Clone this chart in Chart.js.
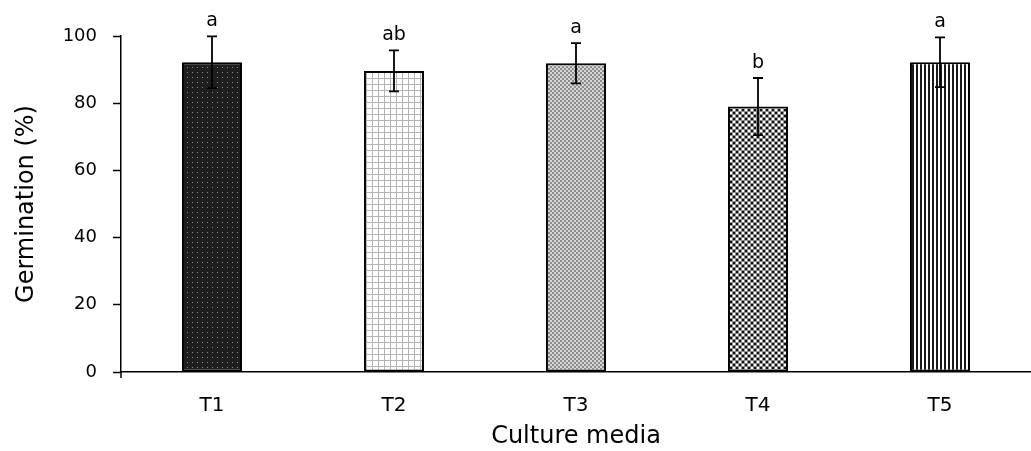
<!DOCTYPE html>
<html>
<head>
<meta charset="utf-8">
<script src="https://cdn.jsdelivr.net/npm/chart.js@4"></script>
<style>
  html, body { margin: 0; padding: 0; background: #fff; }
  #wrap { width: 1031px; height: 451px; }
</style>
</head>
<body>
<div id="wrap"><canvas id="germChart"></canvas></div>
<script>
// data
const categories = ['T1', 'T2', 'T3', 'T4', 'T5'];
const germination = [92.2, 89.6, 91.9, 79.0, 92.2];
const errors = [7.7, 6.1, 6.0, 8.5, 7.4];
const letters = ['a', 'ab', 'a', 'b', 'a'];
const yTicks = [0, 20, 40, 60, 80, 100];

const FONT = '"DejaVu Sans", Verdana, sans-serif';

// small tile patterns for the bar fills
function makePattern(size, draw) {
    const c = document.createElement('canvas');
    c.width = size;
    c.height = size;
    const g = c.getContext('2d');
    draw(g);
    return c.getContext('2d').createPattern(c, 'repeat');
}

const patterns = [
    // T1: dark with grey dots
    makePattern(5, g => {
        g.fillStyle = '#1e1e1e'; g.fillRect(0, 0, 5, 5);
        g.fillStyle = '#8a8a8a'; g.fillRect(2, 2, 1, 1);
    }),
    // T2: white with grey grid
    makePattern(6, g => {
        g.fillStyle = '#ffffff'; g.fillRect(0, 0, 6, 6);
        g.fillStyle = '#b4b4b4'; g.fillRect(0, 0, 6, 1); g.fillRect(0, 0, 1, 6);
    }),
    // T3: fine grey checker
    makePattern(4, g => {
        g.fillStyle = '#d6d6d6'; g.fillRect(0, 0, 4, 4);
        g.fillStyle = '#8c8c8c'; g.fillRect(0, 0, 2, 2); g.fillRect(2, 2, 2, 2);
    }),
    // T4: grey with black and white squares
    makePattern(6, g => {
        g.fillStyle = '#8e8e8e'; g.fillRect(0, 0, 6, 6);
        g.fillStyle = '#ffffff'; g.fillRect(1, 1, 2, 2); g.fillRect(4, 4, 2, 2);
        g.fillStyle = '#111111'; g.fillRect(4, 1, 2, 2); g.fillRect(1, 4, 2, 2);
    }),
    // T5: vertical stripes
    makePattern(4, g => {
        g.fillStyle = '#ffffff'; g.fillRect(0, 0, 4, 4);
        g.fillStyle = '#1a1a1a'; g.fillRect(0, 0, 2, 4);
    })
];

const errorBarPlugin = {
    id: 'errorBars',
    afterDatasetsDraw(chart) {
        const ctx = chart.ctx;
        const y = chart.scales.y;
        const meta = chart.getDatasetMeta(0);
        ctx.save();
        ctx.strokeStyle = '#000';
        ctx.lineWidth = 1.8;
        meta.data.forEach((bar, i) => {
            const top = y.getPixelForValue(germination[i] + errors[i]);
            const bot = y.getPixelForValue(germination[i] - errors[i]);
            const x = bar.x;
            ctx.beginPath();
            ctx.moveTo(x, top); ctx.lineTo(x, bot);
            ctx.moveTo(x - 5, top); ctx.lineTo(x + 5, top);
            ctx.moveTo(x - 5, bot); ctx.lineTo(x + 5, bot);
            ctx.stroke();

            ctx.fillStyle = '#000';
            ctx.font = '19px ' + FONT;
            ctx.textAlign = 'center';
            ctx.textBaseline = 'alphabetic';
            ctx.fillText(letters[i], x, top - 10);
        });
        // y axis line runs a little below the x axis, as in the original
        const yAxis = chart.scales.y;
        ctx.beginPath();
        ctx.lineWidth = 1.5;
        ctx.moveTo(yAxis.right, yAxis.bottom);
        ctx.lineTo(yAxis.right, yAxis.bottom + 6);
        ctx.stroke();
        ctx.restore();
    }
};

new Chart(document.getElementById('germChart'), {
    type: 'bar',
    data: {
        labels: categories,
        datasets: [{
            data: germination,
            backgroundColor: patterns,
            borderColor: '#000',
            borderWidth: 2,
            borderSkipped: false,
            barPercentage: 0.33,
            categoryPercentage: 1.0
        }]
    },
    options: {
        responsive: true,
        maintainAspectRatio: false,
        animation: false,
        layout: { padding: { top: 36, right: 0, bottom: 0, left: 0 } },
        plugins: {
            legend: { display: false },
            tooltip: { enabled: false }
        },
        scales: {
            x: {
                grid: { display: false, drawTicks: false },
                border: { display: true, color: '#000', width: 1.5 },
                ticks: { color: '#000', font: { family: FONT, size: 20 }, padding: 22 },
                title: { display: true, text: 'Culture media', color: '#000', font: { family: FONT, size: 24 }, padding: { top: 4, bottom: 0 } },
                afterFit(scale) { scale.height = 79; }
            },
            y: {
                min: 0,
                max: 100,
                afterBuildTicks(scale) { scale.ticks = yTicks.map(v => ({ value: v })); },
                grid: { display: true, drawOnChartArea: false, drawTicks: true, tickLength: 8, color: '#000', tickWidth: 1.5 },
                border: { display: true, color: '#000', width: 1.5 },
                ticks: { color: '#000', font: { family: FONT, size: 18 }, padding: 16 },
                title: { display: true, text: 'Germination (%)', color: '#000', font: { family: FONT, size: 24 }, padding: { top: 12, bottom: 4 } },
                afterFit(scale) { scale.width = 121; }
            }
        }
    },
    plugins: [errorBarPlugin]
});
</script>
</body>
</html>
